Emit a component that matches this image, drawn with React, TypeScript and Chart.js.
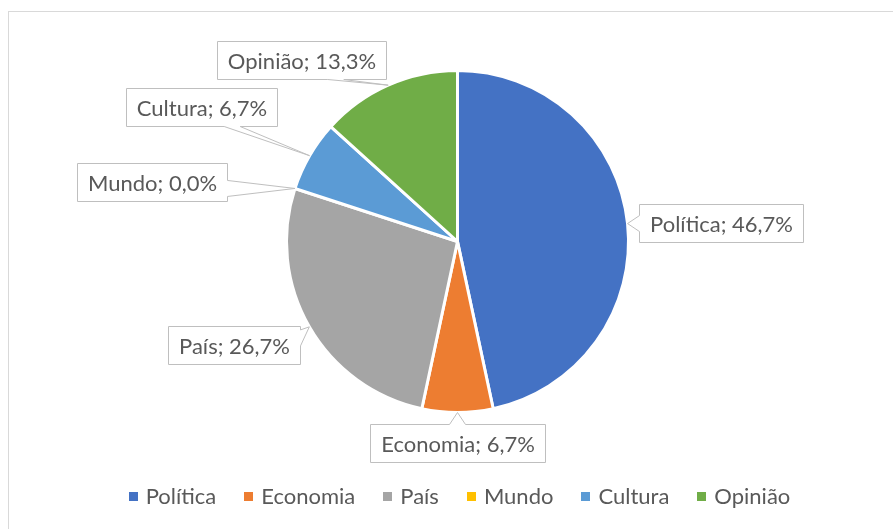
import { useEffect, useRef } from "react";
import { Chart, registerables } from "chart.js";

Chart.register(...registerables);

const categories = ["Política", "Economia", "País", "Mundo", "Cultura", "Opinião"];
const shares = [46.7, 6.7, 26.7, 0.0, 6.7, 13.3];
const colors = ["#4472C4", "#ED7D31", "#A5A5A5", "#FFC000", "#5B9BD5", "#70AD47"];
// label box centre offset from the slice's outer mid point (layout only)
const labelOffsets = [
  [93, -1],
  [0, 30],
  [-75, 18],
  [-143, -6],
  [-108, -49],
  [-87, -25],
];

const FONT = "Lato";
const TEXT_COLOR = "#595959";
const LABEL_FONT_SIZE = 22;
const LEGEND_FONT_SIZE = 22;

const fmt = (v: number) => v.toFixed(1).replace(".", ",") + "%";

const framePlugin = {
  id: "frame",
  beforeDraw(chart: any) {
    const ctx = chart.ctx;
    ctx.save();
    ctx.fillStyle = "#ffffff";
    ctx.fillRect(0, 0, chart.width, chart.height);
    ctx.strokeStyle = "#D9D9D9";
    ctx.lineWidth = 1;
    ctx.strokeRect(8.5, 11.5, chart.width + 20, chart.height + 20);
    ctx.restore();
  },
};

const calloutPlugin = {
  id: "callouts",
  afterDatasetsDraw(chart: any) {
    const ctx = chart.ctx;
    const meta = chart.getDatasetMeta(0);
    ctx.save();
    ctx.font = `${LABEL_FONT_SIZE}px ${FONT}`;
    meta.data.forEach((arc: any, i: number) => {
      const p = arc.getProps(["x", "y", "startAngle", "endAngle", "outerRadius"], true);
      const mid = (p.startAngle + p.endAngle) / 2;
      const ax = p.x + Math.cos(mid) * p.outerRadius;
      const ay = p.y + Math.sin(mid) * p.outerRadius;
      const text = `${categories[i]}; ${fmt(shares[i])}`;
      const tw = ctx.measureText(text).width;
      const w = Math.round(tw + 21);
      const h = 38;
      const cx = ax + labelOffsets[i][0];
      const cy = ay + labelOffsets[i][1];
      const l = Math.round(cx - w / 2) + 0.5;
      const t = Math.round(cy - h / 2) + 0.5;
      const r = l + w;
      const b = t + h;
      const inside = ax > l && ax < r && ay > t && ay < b;
      const nx = (ax - cx) / w;
      const ny = (ay - cy) / h;
      let side = "";
      if (!inside) {
        if (Math.abs(nx) > Math.abs(ny)) side = nx > 0 ? "right" : "left";
        else side = ny > 0 ? "bottom" : "top";
      }
      const bw = 16;
      const clamp = (v: number, a: number, z: number) => Math.max(a, Math.min(z, v));
      const pts: number[][] = [];
      pts.push([l, t]);
      if (side === "top") {
        const c = clamp(ax, l + 0.3 * w, r - 0.3 * w);
        pts.push([c - bw / 2, t], [ax, ay], [c + bw / 2, t]);
      }
      pts.push([r, t]);
      if (side === "right") {
        const c = clamp(ay, t + 0.3 * h, b - 0.3 * h);
        pts.push([r, c - bw / 2], [ax, ay], [r, c + bw / 2]);
      }
      pts.push([r, b]);
      if (side === "bottom") {
        const c = clamp(ax, l + 0.3 * w, r - 0.3 * w);
        pts.push([c + bw / 2, b], [ax, ay], [c - bw / 2, b]);
      }
      pts.push([l, b]);
      if (side === "left") {
        const c = clamp(ay, t + 0.3 * h, b - 0.3 * h);
        pts.push([l, c + bw / 2], [ax, ay], [l, c - bw / 2]);
      }
      ctx.beginPath();
      pts.forEach((pt, k) => (k === 0 ? ctx.moveTo(pt[0], pt[1]) : ctx.lineTo(pt[0], pt[1])));
      ctx.closePath();
      ctx.fillStyle = "#ffffff";
      ctx.fill();
      ctx.strokeStyle = "#BFBFBF";
      ctx.lineWidth = 1;
      ctx.stroke();
      ctx.fillStyle = TEXT_COLOR;
      ctx.textAlign = "center";
      ctx.textBaseline = "middle";
      ctx.fillText(text, (l + r) / 2, (t + b) / 2 + 1);
    });
    ctx.restore();
  },
};

const legendPlugin = {
  id: "bottomLegend",
  afterDraw(chart: any) {
    const ctx = chart.ctx;
    ctx.save();
    ctx.font = `${LEGEND_FONT_SIZE}px ${FONT}`;
    const marker = 9;
    const gapText = 8;
    const gapItem = 28;
    const widths = categories.map((c) => ctx.measureText(c).width);
    const total =
      widths.reduce((s, tw) => s + marker + gapText + tw, 0) + gapItem * (categories.length - 1);
    let x = 459.5 - total / 2;
    const y = 496;
    ctx.textBaseline = "middle";
    ctx.textAlign = "left";
    categories.forEach((c, i) => {
      ctx.fillStyle = colors[i];
      ctx.fillRect(Math.round(x), Math.round(y - marker / 2), marker, marker);
      x += marker + gapText;
      ctx.fillStyle = TEXT_COLOR;
      ctx.fillText(c, x, y + 1);
      x += widths[i] + gapItem;
    });
    ctx.restore();
  },
};

export default function App() {
  const ref = useRef<HTMLCanvasElement | null>(null);
  useEffect(() => {
    document.body.style.margin = "0";
    const canvas = ref.current;
    if (!canvas) return;
    const chart = new Chart(canvas, {
      type: "pie",
      data: {
        labels: categories,
        datasets: [
          {
            data: shares,
            backgroundColor: colors,
            borderColor: "#ffffff",
            borderWidth: 3,
            hoverOffset: 0,
            offset: 0,
          },
        ],
      },
      options: {
        responsive: false,
        animation: false,
        devicePixelRatio: 1,
        events: [],
        layout: { padding: { left: 285, right: 263, top: 69, bottom: 115 } },
        plugins: {
          legend: { display: false },
          tooltip: { enabled: false },
        },
      },
      plugins: [framePlugin, calloutPlugin, legendPlugin],
    });
    return () => chart.destroy();
  }, []);
  return (
    <div style={{ width: 893, height: 529, background: "#fff" }}>
      <canvas ref={ref} width={893} height={529} style={{ display: "block", width: 893, height: 529 }} />
    </div>
  );
}
